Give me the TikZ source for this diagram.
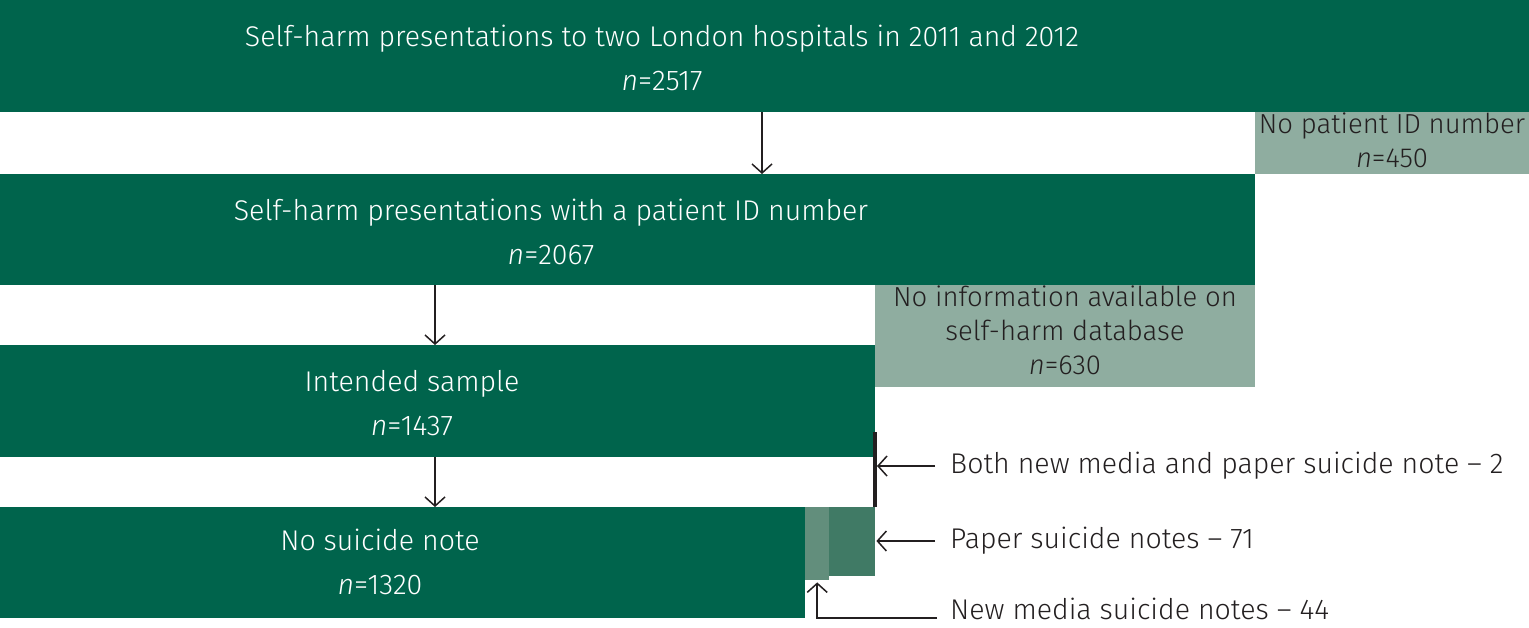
\documentclass[tikz,border=0pt]{standalone}
\usepackage{fontspec}
\setmainfont{Fira Sans Light}
\usetikzlibrary{positioning,arrows.meta}
\definecolor{boxgreen}{RGB}{0,100,76}
\definecolor{boxgrey}{RGB}{143,173,160}
\definecolor{stripmedia}{RGB}{98,142,124}
\definecolor{strippaper}{RGB}{64,122,101}
\definecolor{inkgrey}{RGB}{35,31,32}
\tikzset{
  mainbox/.style={fill=boxgreen, inner sep=0pt, anchor=north west},
  greybox/.style={fill=boxgrey, inner sep=0pt, anchor=north west},
  maintext/.style={text=white, align=center, inner sep=0pt, font=\fontsize{28.5}{44}\selectfont},
  greytext/.style={text=inkgrey, align=center, inner sep=0pt, font=\fontsize{27.5}{34}\selectfont},
  sidetext/.style={text=inkgrey, anchor=west, inner sep=0pt, font=\fontsize{28.5}{34}\selectfont},
  arr/.style={draw=inkgrey, line width=1.5pt, -{Straight Barb[length=9pt,width=20pt,line width=1.5pt]}}
}
\begin{document}
\begin{tikzpicture}[x=1pt,y=-1pt]
  \useasboundingbox (0,0) rectangle (1529,627);
  % boxes
  \node[mainbox, minimum width=1529pt, minimum height=112pt] (all) at (0,0) {};
  \node[greybox, minimum width=274pt, minimum height=62pt] (noid) at (1255,112) {};
  \node[mainbox, minimum width=1255pt, minimum height=111pt] (withid) at (0,174) {};
  \node[greybox, minimum width=380pt, minimum height=102pt] (noinfo) at (875,285) {};
  \node[mainbox, minimum width=875pt, minimum height=112pt] (intended) at (0,345) {};
  \node[mainbox, minimum width=805pt, minimum height=111pt] (nonote) at (0,507) {};
  \node[fill=stripmedia, inner sep=0pt, anchor=north west, minimum width=24pt, minimum height=73pt] (mediastrip) at (805,507) {};
  \node[fill=strippaper, inner sep=0pt, anchor=north west, minimum width=46pt, minimum height=69pt] (paperstrip) at (829,507) {};
  % texts
  \node[maintext] (alltxt) at (662,58) {Self-harm presentations to two London hospitals in 2011 and 2012\\\textit{n}=2517};
  \node[greytext] (noidtxt) at (1392,140) {No patient ID number\\\textit{n}=450};
  \node[maintext] (withidtxt) at (551,232) {Self-harm presentations with a patient ID number\\\textit{n}=2067};
  \node[greytext] (noinfotxt) at (1065,330) {No information available on\\self-harm database\\\textit{n}=630};
  \node[maintext] (intendedtxt) at (412,403) {Intended sample\\\textit{n}=1437};
  \node[maintext] (nonotetxt) at (380,562) {No suicide note\\\textit{n}=1320};
  \node[sidetext] (both) at (950,466) {Both new media and paper suicide note -- 2};
  \node[sidetext] (paper) at (950,541) {Paper suicide notes -- 71};
  \node[sidetext] (newmedia) at (950,609) {New media suicide notes -- 44};
  % connectors
  \coordinate (down1) at (762,0);
  \coordinate (down2) at (435,0);
  \coordinate (bothtop) at (875,432);
  \draw[arr] (down1 |- all.south) -- (down1 |- withid.north);
  \draw[arr] (down2 |- withid.south) -- (down2 |- intended.north);
  \draw[arr] (down2 |- intended.south) -- (down2 |- nonote.north);
  \draw[draw=inkgrey, line width=3.5pt] (bothtop) -- (bothtop |- nonote.north);
  \draw[arr] ([xshift=-15pt]both.west) -- ([xshift=2pt]both.west -| bothtop);
  \draw[arr] ([xshift=-15pt]paper.west) -- ([xshift=1pt]paper.west -| paperstrip.east);
  \draw[arr] ([xshift=-13pt,yshift=-9pt]newmedia.west) -| ([yshift=-2pt]mediastrip.south);
\end{tikzpicture}
\end{document}
